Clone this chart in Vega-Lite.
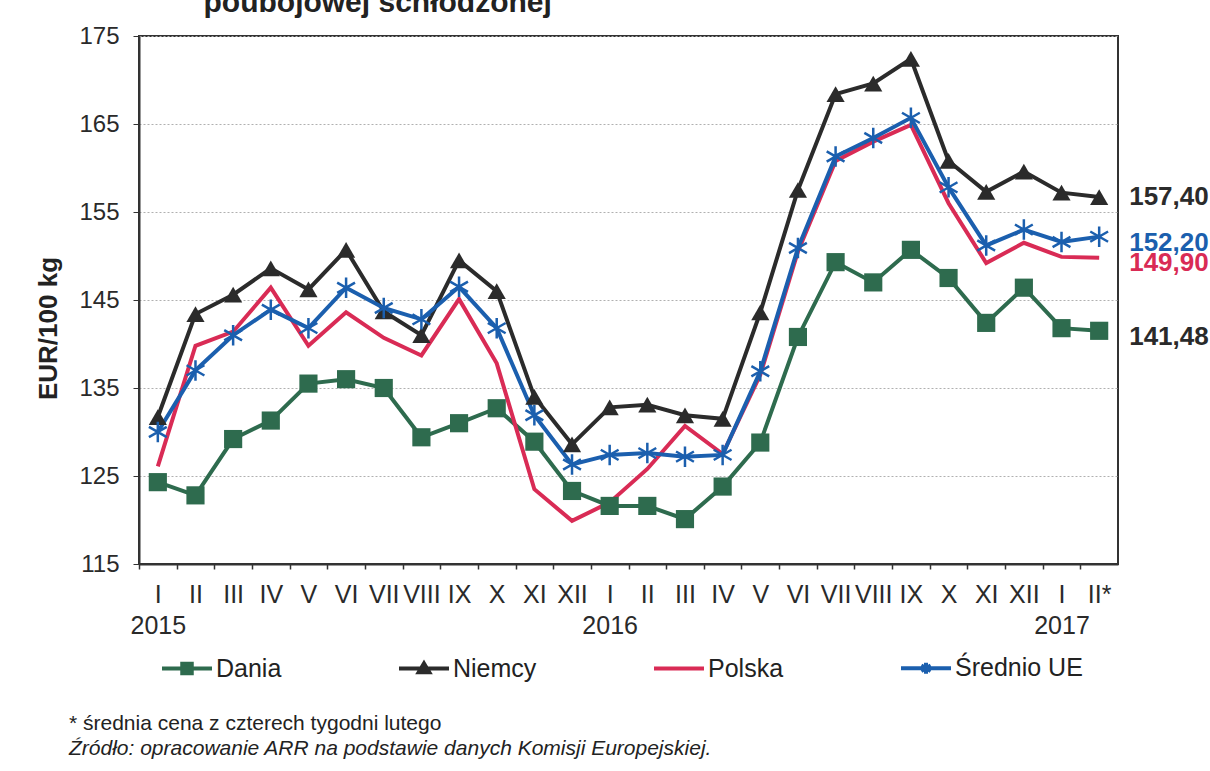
{
  "$schema": "https://vega.github.io/schema/vega-lite/v6.json",
  "width": 979,
  "height": 528,
  "autosize": {"type": "none"},
  "padding": {"left": 139, "top": 36, "right": 92, "bottom": 207},
  "background": "white",
  "title": {
    "text": "* średnia cena z czterech tygodni lutego",
    "subtitle": "Źródło: opracowanie ARR na podstawie danych Komisji Europejskiej.",
    "orient": "bottom",
    "anchor": "start",
    "frame": "group",
    "font": "Liberation Sans",
    "fontSize": 21,
    "fontWeight": "normal",
    "color": "#222222",
    "subtitleFont": "Liberation Sans",
    "subtitleFontSize": 21,
    "subtitleFontStyle": "italic",
    "subtitleColor": "#222222",
    "subtitlePadding": 4,
    "offset": 31,
    "dx": -70
  },
  "datasets": {
    "prices": [
      {"m": "2015-01", "Dania": 124.3, "Niemcy": 131.7, "Polska": 126.1, "Średnio UE": 130.0},
      {"m": "2015-02", "Dania": 122.8, "Niemcy": 143.4, "Polska": 139.8, "Średnio UE": 137.0},
      {"m": "2015-03", "Dania": 129.2, "Niemcy": 145.6, "Polska": 141.4, "Średnio UE": 141.0},
      {"m": "2015-04", "Dania": 131.3, "Niemcy": 148.6, "Polska": 146.4, "Średnio UE": 143.9},
      {"m": "2015-05", "Dania": 135.5, "Niemcy": 146.2, "Polska": 139.8, "Średnio UE": 141.8},
      {"m": "2015-06", "Dania": 136.0, "Niemcy": 150.7, "Polska": 143.6, "Średnio UE": 146.4},
      {"m": "2015-07", "Dania": 135.0, "Niemcy": 143.7, "Polska": 140.7, "Średnio UE": 144.1},
      {"m": "2015-08", "Dania": 129.4, "Niemcy": 141.0, "Polska": 138.7, "Średnio UE": 142.8},
      {"m": "2015-09", "Dania": 131.0, "Niemcy": 149.5, "Polska": 145.1, "Średnio UE": 146.5},
      {"m": "2015-10", "Dania": 132.7, "Niemcy": 146.0, "Polska": 137.8, "Średnio UE": 141.8},
      {"m": "2015-11", "Dania": 128.9, "Niemcy": 134.0, "Polska": 123.5, "Średnio UE": 131.9},
      {"m": "2015-12", "Dania": 123.3, "Niemcy": 128.6, "Polska": 119.9, "Średnio UE": 126.3},
      {"m": "2016-01", "Dania": 121.6, "Niemcy": 132.8, "Polska": 122.0, "Średnio UE": 127.4},
      {"m": "2016-02", "Dania": 121.6, "Niemcy": 133.1, "Polska": 125.8, "Średnio UE": 127.6},
      {"m": "2016-03", "Dania": 120.1, "Niemcy": 131.9, "Polska": 130.7, "Średnio UE": 127.2},
      {"m": "2016-04", "Dania": 123.8, "Niemcy": 131.5, "Polska": 127.5, "Średnio UE": 127.4},
      {"m": "2016-05", "Dania": 128.8, "Niemcy": 143.6, "Polska": 136.5, "Średnio UE": 136.9},
      {"m": "2016-06", "Dania": 140.8, "Niemcy": 157.5, "Polska": 150.5, "Średnio UE": 150.9},
      {"m": "2016-07", "Dania": 149.3, "Niemcy": 168.4, "Polska": 160.8, "Średnio UE": 161.3},
      {"m": "2016-08", "Dania": 147.0, "Niemcy": 169.6, "Polska": 163.0, "Średnio UE": 163.4},
      {"m": "2016-09", "Dania": 150.7, "Niemcy": 172.4, "Polska": 164.9, "Średnio UE": 165.7},
      {"m": "2016-10", "Dania": 147.5, "Niemcy": 160.8, "Polska": 156.0, "Średnio UE": 157.8},
      {"m": "2016-11", "Dania": 142.4, "Niemcy": 157.3, "Polska": 149.2, "Średnio UE": 151.2},
      {"m": "2016-12", "Dania": 146.4, "Niemcy": 159.6, "Polska": 151.5, "Średnio UE": 153.0},
      {"m": "2017-01", "Dania": 141.8, "Niemcy": 157.2, "Polska": 149.9, "Średnio UE": 151.6},
      {"m": "2017-02", "Dania": 141.5, "Niemcy": 156.7, "Polska": 149.8, "Średnio UE": 152.2}
    ],
    "endlabels": [
      {"m": "2017-02", "s": "Niemcy", "v": 157.4, "t": "157,40"},
      {"m": "2017-02", "s": "Średnio UE", "v": 152.2, "t": "152,20"},
      {"m": "2017-02", "s": "Polska", "v": 149.9, "t": "149,90"},
      {"m": "2017-02", "s": "Dania", "v": 141.48, "t": "141,48"}
    ]
  },
  "data": {"name": "prices"},
  "transform": [
    {"fold": ["Dania", "Niemcy", "Polska", "Średnio UE"], "as": ["s", "v"]}
  ],
  "resolve": {"axis": {"x": "independent"}},
  "layer": [
    {
      "mark": {"type": "line", "strokeWidth": 4},
      "encoding": {
        "x": {
          "field": "m",
          "type": "ordinal",
          "scale": {"type": "point", "padding": 0.5},
          "axis": {
            "orient": "bottom",
            "title": null,
            "ticks": true,
            "tickSize": 5,
            "tickOffset": -18.8,
            "tickColor": "#333333",
            "tickWidth": 1.5,
            "domainColor": "#333333",
            "domainWidth": 2,
            "grid": false,
            "labelAngle": 0,
            "labelOffset": 18.8,
            "labelOverlap": false,
            "labelBound": false,
            "labelFont": "Liberation Sans",
            "labelFontSize": 25,
            "labelColor": "#2a2a2a",
            "labelPadding": 13,
            "labelLineHeight": 31,
            "labelExpr": "!isString(datum.value) ? '' : (slice(datum.value, 5) == '01' ? ['I', slice(datum.value, 0, 4)] : (datum.value == '2017-02' ? 'II*' : ['I','II','III','IV','V','VI','VII','VIII','IX','X','XI','XII'][toNumber(slice(datum.value, 5)) - 1]))"
          }
        },
        "y": {
          "field": "v",
          "type": "quantitative",
          "scale": {"domain": [115, 175], "nice": false, "zero": false},
          "axis": {
            "title": "EUR/100 kg",
            "titleFont": "Liberation Sans",
            "titleFontSize": 26,
            "titleFontWeight": "bold",
            "titleColor": "#222222",
            "titleX": -78,
            "titleY": 292,
            "values": [115, 125, 135, 145, 155, 165, 175],
            "labelFont": "Liberation Sans",
            "labelFontSize": 24,
            "labelColor": "#2a2a2a",
            "labelPadding": 14,
            "labelFlush": false,
            "tickSize": 6,
            "tickColor": "#333333",
            "domainColor": "#333333",
            "domainWidth": 2,
            "grid": true,
            "gridColor": "#b0b0b0",
            "gridDash": [2, 2],
            "gridWidth": 1
          }
        },
        "color": {
          "field": "s",
          "type": "nominal",
          "scale": {
            "domain": ["Dania", "Niemcy", "Polska", "Średnio UE"],
            "range": ["#2e6b4e", "#2b2b2b", "#d92b55", "#1b5fae"]
          },
          "legend": {
            "orient": "none",
            "legendX": 21,
            "legendY": 605,
            "direction": "horizontal",
            "columns": 4,
            "title": null,
            "symbolSize": 2500,
            "symbolStrokeWidth": 4,
            "symbolType": "M-1,0H1",
            "labelFont": "Liberation Sans",
            "labelFontSize": 25,
            "labelColor": "#222222",
            "labelOffset": 2,
            "columnPadding": 109,
            "encode": {
              "symbols": {
                "update": {
                  "shape": {"signal": "datum.value === 'Dania' ? 'M-1,0H1M-0.19,-0.19H0.19V0.19H-0.19Z' : (datum.value === 'Niemcy' ? 'M-1,0H1M0,-0.2L0.21,0.15L-0.21,0.15Z' : (datum.value === 'Polska' ? 'M-1,0H1' : 'M-1,0H1M0,-0.22V0.22M-0.19,-0.11L0.19,0.11M-0.19,0.11L0.19,-0.11'))"},
                  "fill": {"signal": "datum.value === 'Dania' ? '#2e6b4e' : (datum.value === 'Niemcy' ? '#2b2b2b' : 'transparent')"}
                }
              }
            }
          }
        }
      }
    },
    {
      "transform": [{"filter": "datum.s === 'Dania' || datum.s === 'Niemcy'"}],
      "mark": {"type": "point", "filled": true, "size": 330, "opacity": 1},
      "encoding": {
        "x": {"field": "m", "type": "ordinal", "axis": null},
        "y": {"field": "v", "type": "quantitative"},
        "color": {"field": "s", "type": "nominal"},
        "shape": {
          "field": "s",
          "type": "nominal",
          "scale": {"domain": ["Dania", "Niemcy"], "range": ["square", "triangle-up"]},
          "legend": null
        }
      }
    },
    {
      "transform": [{"filter": "datum.s === 'Średnio UE'"}],
      "mark": {
        "type": "point",
        "filled": false,
        "size": 420,
        "opacity": 1,
        "strokeWidth": 2.5,
        "shape": "M0,-1V1M-0.87,-0.5L0.87,0.5M-0.87,0.5L0.87,-0.5"
      },
      "encoding": {
        "x": {
          "field": "m",
          "type": "ordinal",
          "axis": {
            "orient": "top",
            "labels": false,
            "ticks": false,
            "domain": false,
            "grid": false,
            "title": "poubojowej schłodzonej",
            "titleFont": "Liberation Sans",
            "titleFontSize": 30,
            "titleFontWeight": "bold",
            "titleColor": "#222222",
            "titleAnchor": "start",
            "titleAlign": "left",
            "titleBaseline": "alphabetic",
            "titleX": 64,
            "titleY": -25
          }
        },
        "y": {"field": "v", "type": "quantitative"},
        "color": {"field": "s", "type": "nominal"}
      }
    },
    {
      "data": {"name": "endlabels"},
      "mark": {
        "type": "text",
        "align": "left",
        "baseline": "middle",
        "dx": 30,
        "dy": 6,
        "font": "Liberation Sans",
        "fontSize": 26,
        "fontWeight": "bold"
      },
      "encoding": {
        "x": {"field": "m", "type": "ordinal", "axis": null},
        "y": {"field": "v", "type": "quantitative"},
        "text": {"field": "t"},
        "color": {
          "condition": {"test": "datum.s === 'Dania'", "value": "#2a2a2a"},
          "field": "s",
          "type": "nominal"
        }
      }
    }
  ],
  "config": {
    "view": {"stroke": "#333333", "strokeWidth": 2},
    "font": "Liberation Sans"
  }
}
